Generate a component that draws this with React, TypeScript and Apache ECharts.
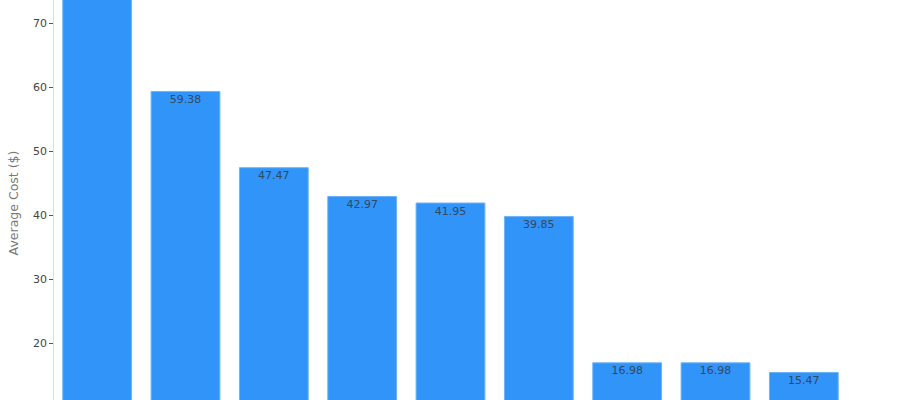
import React, { useEffect, useRef } from "react";
import * as echarts from "echarts";

const categories = ["A", "B", "C", "D", "E", "F", "G", "H", "I"];
const values = [79.0, 59.38, 47.47, 42.97, 41.95, 39.85, 16.98, 16.98, 15.47];
const yMin = 10;
const yMax = 73.75;
const yInterval = 10;

export default function App() {
  const ref = useRef<HTMLDivElement>(null);
  useEffect(() => {
    document.body.style.margin = "0";
    const chart = echarts.init(ref.current!, null, { renderer: "svg" });
    chart.setOption({
      animation: false,
      backgroundColor: "#ffffff",
      textStyle: { fontFamily: "DejaVu Sans" },
      grid: { left: 53, right: 52, top: 0, bottom: 0, containLabel: false, outerBoundsMode: "none" },
      xAxis: {
        type: "category",
        data: categories,
        axisLine: { show: true, lineStyle: { color: "#cccccc" } },
        axisTick: { show: false },
        axisLabel: { show: false },
      },
      yAxis: {
        type: "value",
        min: yMin,
        max: yMax,
        interval: yInterval,
        name: "Average Cost ($)",
        nameLocation: "middle",
        nameGap: 33,
        nameTextStyle: { color: "#777", fontSize: 12.5, fontFamily: "DejaVu Sans" },
        axisLine: { show: true, lineStyle: { color: "#dddddd" } },
        axisTick: { show: true, length: 4, lineStyle: { color: "#555" } },
        axisLabel: {
          color: "#444",
          fontSize: 11,
          margin: 6,
          fontFamily: "DejaVu Sans",
          showMinLabel: false,
          showMaxLabel: false,
        },
        splitLine: { show: false },
      },
      series: [
        {
          type: "bar",
          clip: false,
          data: values.map((v, i) => (i === 0 ? { value: v, label: { show: false } } : v)),
          barCategoryGap: "21%",
          itemStyle: { color: "#3194f8", borderColor: "#6fb3f7", borderWidth: 1 },
          label: {
            show: true,
            position: "insideTop",
            distance: 3,
            color: "#34495e",
            fontSize: 11,
            fontFamily: "DejaVu Sans",
            formatter: (p: any) => p.value.toFixed(2),
          },
        },
      ],
    });
    return () => chart.dispose();
  }, []);
  return (
    <div style={{ position: "fixed", left: 0, top: 0, width: 900, height: 400, overflow: "hidden", background: "#fff" }}>
      <div ref={ref} style={{ position: "absolute", left: 0, top: -1, width: 900, height: 408 }} />
    </div>
  );
}
